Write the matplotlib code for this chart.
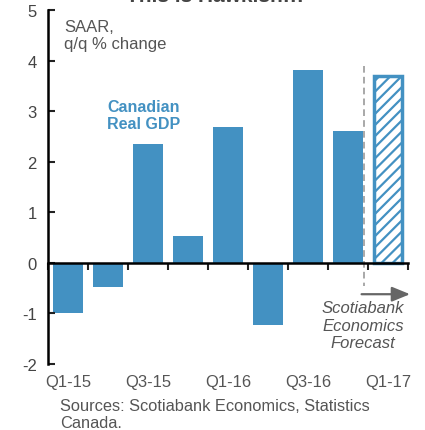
import matplotlib.pyplot as plt
import matplotlib.transforms as mtransforms
import numpy as np

plt.rcParams['font.family'] = ['Liberation Sans', 'DejaVu Sans']
plt.rcParams['hatch.linewidth'] = 1.6
plt.rcParams['axes.unicode_minus'] = False

# data
quarters = ['Q1-15', 'Q2-15', 'Q3-15', 'Q4-15', 'Q1-16', 'Q2-16', 'Q3-16', 'Q4-16', 'Q1-17']
gdp = [-1.0, -0.47, 2.35, 0.53, 2.69, -1.23, 3.82, 2.6, 3.7]
is_forecast = [False] * 8 + [True]
shown_labels = ['Q1-15', 'Q3-15', 'Q1-16', 'Q3-16', 'Q1-17']

blue = '#4391c2'
gray_txt = '#555555'

fig = plt.figure(figsize=(4.25, 4.31), dpi=100)
ax = fig.add_axes([48/425, 1 - 365/431, 360/425, 354/431])

x = np.arange(len(quarters))
for xi, v, fc in zip(x, gdp, is_forecast):
    if fc:
        ax.bar(xi, v, width=0.72, facecolor='white', edgecolor=blue, hatch='///', linewidth=2.5)
    else:
        ax.bar(xi, v, width=0.75, color=blue)

ax.set_xlim(-0.5, len(quarters) - 0.5)
ax.set_ylim(-2, 5)
ax.set_yticks(range(-2, 6))
ax.tick_params(axis='y', direction='in', length=5, width=1.5, labelsize=12, colors='#222222', labelcolor='#444444', pad=8)

ax.spines['top'].set_visible(False)
ax.spines['right'].set_visible(False)
ax.spines['left'].set_linewidth(1.8)
ax.spines['bottom'].set_position(('data', 0))
ax.spines['bottom'].set_linewidth(1.8)
ax.set_xticks(np.arange(len(quarters) + 1) - 0.5)
ax.set_xticklabels([])
ax.tick_params(axis='x', direction='out', length=5, width=1.5, colors='#222222')

trans = mtransforms.blended_transform_factory(ax.transData, ax.transAxes)
for xi, q in zip(x, quarters):
    if q in shown_labels:
        ax.text(xi, -0.05, q, transform=trans, ha='center', va='center', fontsize=12, color=gray_txt)

# forecast marker
ax.plot([7.4, 7.4], [3.9, -0.45], color='#999999', linestyle=(0, (4, 2.5)), linewidth=1.2, clip_on=False)
ax.annotate('', xy=(8.62, -0.62), xytext=(7.27, -0.62),
            arrowprops=dict(arrowstyle='-|>,head_length=1.1,head_width=0.45', color='#666666', lw=1.6),
            annotation_clip=False)
ax.text(7.37, -0.74, 'Scotiabank\nEconomics\nForecast', ha='center', va='top', fontsize=12,
        style='italic', color=gray_txt, linespacing=1.2)

ax.text(0.045, 0.975, 'SAAR,\nq/q % change', transform=ax.transAxes, ha='left', va='top',
        fontsize=12, color=gray_txt, linespacing=1.2)
ax.text(1.9, 2.92, 'Canadian\nReal GDP', ha='center', va='center', fontsize=11.5,
        fontweight='bold', color=blue, linespacing=1.2)

fig.text(215/425, 1 - 2/431, 'This is Hawkish!!!', ha='center', va='baseline', fontsize=15,
         fontweight='bold', color='#444444')
fig.text(60/425, 1 - 399/431, 'Sources: Scotiabank Economics, Statistics\nCanada.', ha='left', va='top',
         fontsize=11.8, color=gray_txt, linespacing=1.15)

fig.savefig('out.png', dpi=100)
